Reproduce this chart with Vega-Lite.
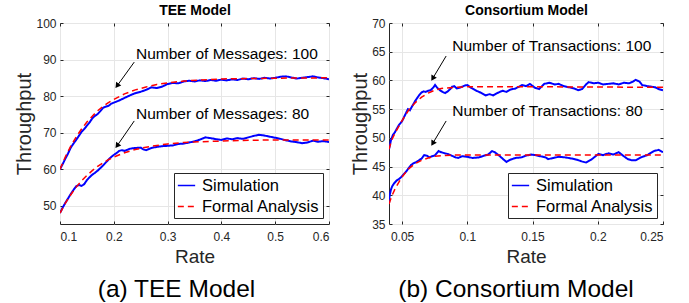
{
  "$schema": "https://vega.github.io/schema/vega-lite/v6.json",
  "padding": {"left": 14, "top": 3, "right": 0, "bottom": 0},
  "autosize": {"type": "pad"},
  "background": "white",
  "config": {
    "font": "Liberation Sans",
    "view": {"stroke": "#262626", "strokeWidth": 1},
    "axis": {"labelFont": "Liberation Sans", "titleFont": "Liberation Sans", "labelColor": "#262626", "titleColor": "#262626", "domainColor": "#262626", "tickColor": "#262626", "gridColor": "#e6e6e6", "labelFontSize": 12, "titleFontWeight": "normal"},
    "legend": {"orient": "bottom-right", "offset": 6, "padding": 3, "strokeColor": "#262626", "fillColor": "white", "labelFontSize": 16.5, "labelColor": "black", "symbolType": "stroke", "symbolSize": 300, "symbolStrokeWidth": 1.5, "rowPadding": 3, "labelOffset": 6},
    "title": {"font": "Liberation Sans"}
  },
  "datasets": {
    "aSim": [
      {"r":0.100,"t":60.0,"n":"100","s":"Simulation"},{"r":0.105,"t":61.4,"n":"100","s":"Simulation"},{"r":0.110,"t":62.9,"n":"100","s":"Simulation"},{"r":0.115,"t":64.3,"n":"100","s":"Simulation"},{"r":0.120,"t":65.9,"n":"100","s":"Simulation"},{"r":0.125,"t":67.0,"n":"100","s":"Simulation"},{"r":0.130,"t":68.0,"n":"100","s":"Simulation"},{"r":0.135,"t":69.1,"n":"100","s":"Simulation"},{"r":0.140,"t":70.2,"n":"100","s":"Simulation"},{"r":0.145,"t":71.0,"n":"100","s":"Simulation"},{"r":0.150,"t":71.9,"n":"100","s":"Simulation"},{"r":0.155,"t":72.8,"n":"100","s":"Simulation"},{"r":0.160,"t":73.9,"n":"100","s":"Simulation"},{"r":0.165,"t":74.6,"n":"100","s":"Simulation"},{"r":0.170,"t":75.1,"n":"100","s":"Simulation"},{"r":0.175,"t":75.9,"n":"100","s":"Simulation"},{"r":0.180,"t":76.8,"n":"100","s":"Simulation"},{"r":0.185,"t":77.1,"n":"100","s":"Simulation"},{"r":0.190,"t":77.3,"n":"100","s":"Simulation"},{"r":0.195,"t":77.9,"n":"100","s":"Simulation"},{"r":0.200,"t":78.2,"n":"100","s":"Simulation"},{"r":0.205,"t":78.5,"n":"100","s":"Simulation"},{"r":0.210,"t":78.8,"n":"100","s":"Simulation"},{"r":0.220,"t":79.5,"n":"100","s":"Simulation"},{"r":0.230,"t":80.2,"n":"100","s":"Simulation"},{"r":0.240,"t":80.8,"n":"100","s":"Simulation"},{"r":0.250,"t":81.2,"n":"100","s":"Simulation"},{"r":0.260,"t":81.7,"n":"100","s":"Simulation"},{"r":0.270,"t":82.4,"n":"100","s":"Simulation"},{"r":0.280,"t":82.2,"n":"100","s":"Simulation"},{"r":0.290,"t":82.6,"n":"100","s":"Simulation"},{"r":0.300,"t":83.3,"n":"100","s":"Simulation"},{"r":0.310,"t":83.6,"n":"100","s":"Simulation"},{"r":0.320,"t":83.5,"n":"100","s":"Simulation"},{"r":0.330,"t":84.0,"n":"100","s":"Simulation"},{"r":0.340,"t":84.2,"n":"100","s":"Simulation"},{"r":0.350,"t":84.0,"n":"100","s":"Simulation"},{"r":0.360,"t":84.3,"n":"100","s":"Simulation"},{"r":0.370,"t":84.1,"n":"100","s":"Simulation"},{"r":0.380,"t":84.4,"n":"100","s":"Simulation"},{"r":0.390,"t":84.2,"n":"100","s":"Simulation"},{"r":0.400,"t":84.5,"n":"100","s":"Simulation"},{"r":0.410,"t":84.3,"n":"100","s":"Simulation"},{"r":0.420,"t":84.6,"n":"100","s":"Simulation"},{"r":0.430,"t":84.4,"n":"100","s":"Simulation"},{"r":0.440,"t":84.8,"n":"100","s":"Simulation"},{"r":0.450,"t":84.6,"n":"100","s":"Simulation"},{"r":0.460,"t":84.9,"n":"100","s":"Simulation"},{"r":0.470,"t":84.7,"n":"100","s":"Simulation"},{"r":0.480,"t":85.0,"n":"100","s":"Simulation"},{"r":0.490,"t":84.8,"n":"100","s":"Simulation"},{"r":0.500,"t":85.0,"n":"100","s":"Simulation"},{"r":0.510,"t":85.3,"n":"100","s":"Simulation"},{"r":0.520,"t":85.4,"n":"100","s":"Simulation"},{"r":0.530,"t":85.1,"n":"100","s":"Simulation"},{"r":0.540,"t":84.8,"n":"100","s":"Simulation"},{"r":0.550,"t":85.0,"n":"100","s":"Simulation"},{"r":0.560,"t":85.2,"n":"100","s":"Simulation"},{"r":0.570,"t":85.4,"n":"100","s":"Simulation"},{"r":0.580,"t":85.1,"n":"100","s":"Simulation"},{"r":0.590,"t":84.9,"n":"100","s":"Simulation"},{"r":0.600,"t":84.6,"n":"100","s":"Simulation"},
      {"r":0.100,"t":48.0,"n":"80","s":"Simulation"},{"r":0.105,"t":49.5,"n":"80","s":"Simulation"},{"r":0.110,"t":50.8,"n":"80","s":"Simulation"},{"r":0.115,"t":52.0,"n":"80","s":"Simulation"},{"r":0.120,"t":53.2,"n":"80","s":"Simulation"},{"r":0.125,"t":54.3,"n":"80","s":"Simulation"},{"r":0.130,"t":55.3,"n":"80","s":"Simulation"},{"r":0.135,"t":55.7,"n":"80","s":"Simulation"},{"r":0.140,"t":55.4,"n":"80","s":"Simulation"},{"r":0.145,"t":55.9,"n":"80","s":"Simulation"},{"r":0.150,"t":57.0,"n":"80","s":"Simulation"},{"r":0.155,"t":57.8,"n":"80","s":"Simulation"},{"r":0.160,"t":58.5,"n":"80","s":"Simulation"},{"r":0.165,"t":59.0,"n":"80","s":"Simulation"},{"r":0.170,"t":59.6,"n":"80","s":"Simulation"},{"r":0.175,"t":60.3,"n":"80","s":"Simulation"},{"r":0.180,"t":61.0,"n":"80","s":"Simulation"},{"r":0.185,"t":61.8,"n":"80","s":"Simulation"},{"r":0.190,"t":62.6,"n":"80","s":"Simulation"},{"r":0.195,"t":63.3,"n":"80","s":"Simulation"},{"r":0.200,"t":63.9,"n":"80","s":"Simulation"},{"r":0.205,"t":64.4,"n":"80","s":"Simulation"},{"r":0.210,"t":65.0,"n":"80","s":"Simulation"},{"r":0.215,"t":65.2,"n":"80","s":"Simulation"},{"r":0.220,"t":65.0,"n":"80","s":"Simulation"},{"r":0.225,"t":65.3,"n":"80","s":"Simulation"},{"r":0.230,"t":65.6,"n":"80","s":"Simulation"},{"r":0.240,"t":65.8,"n":"80","s":"Simulation"},{"r":0.250,"t":65.9,"n":"80","s":"Simulation"},{"r":0.255,"t":65.4,"n":"80","s":"Simulation"},{"r":0.260,"t":65.2,"n":"80","s":"Simulation"},{"r":0.270,"t":65.8,"n":"80","s":"Simulation"},{"r":0.280,"t":66.1,"n":"80","s":"Simulation"},{"r":0.290,"t":66.3,"n":"80","s":"Simulation"},{"r":0.300,"t":66.4,"n":"80","s":"Simulation"},{"r":0.310,"t":66.5,"n":"80","s":"Simulation"},{"r":0.320,"t":66.9,"n":"80","s":"Simulation"},{"r":0.330,"t":67.0,"n":"80","s":"Simulation"},{"r":0.340,"t":67.3,"n":"80","s":"Simulation"},{"r":0.350,"t":67.6,"n":"80","s":"Simulation"},{"r":0.360,"t":68.1,"n":"80","s":"Simulation"},{"r":0.370,"t":68.7,"n":"80","s":"Simulation"},{"r":0.380,"t":68.5,"n":"80","s":"Simulation"},{"r":0.390,"t":68.2,"n":"80","s":"Simulation"},{"r":0.400,"t":68.0,"n":"80","s":"Simulation"},{"r":0.410,"t":68.4,"n":"80","s":"Simulation"},{"r":0.420,"t":68.2,"n":"80","s":"Simulation"},{"r":0.430,"t":68.5,"n":"80","s":"Simulation"},{"r":0.440,"t":68.3,"n":"80","s":"Simulation"},{"r":0.450,"t":68.7,"n":"80","s":"Simulation"},{"r":0.460,"t":69.1,"n":"80","s":"Simulation"},{"r":0.470,"t":69.4,"n":"80","s":"Simulation"},{"r":0.480,"t":69.2,"n":"80","s":"Simulation"},{"r":0.490,"t":68.9,"n":"80","s":"Simulation"},{"r":0.500,"t":68.6,"n":"80","s":"Simulation"},{"r":0.510,"t":68.3,"n":"80","s":"Simulation"},{"r":0.520,"t":67.9,"n":"80","s":"Simulation"},{"r":0.530,"t":67.6,"n":"80","s":"Simulation"},{"r":0.540,"t":67.4,"n":"80","s":"Simulation"},{"r":0.550,"t":67.1,"n":"80","s":"Simulation"},{"r":0.560,"t":67.3,"n":"80","s":"Simulation"},{"r":0.570,"t":67.8,"n":"80","s":"Simulation"},{"r":0.580,"t":67.5,"n":"80","s":"Simulation"},{"r":0.590,"t":67.7,"n":"80","s":"Simulation"},{"r":0.600,"t":67.4,"n":"80","s":"Simulation"}
    ],
    "aFor": [
      {"r":0.10,"t":60.0,"n":"100","s":"Formal Analysis"},{"r":0.11,"t":63.4,"n":"100","s":"Formal Analysis"},{"r":0.12,"t":66.3,"n":"100","s":"Formal Analysis"},{"r":0.13,"t":68.8,"n":"100","s":"Formal Analysis"},{"r":0.14,"t":71.0,"n":"100","s":"Formal Analysis"},{"r":0.15,"t":72.9,"n":"100","s":"Formal Analysis"},{"r":0.16,"t":74.5,"n":"100","s":"Formal Analysis"},{"r":0.17,"t":76.0,"n":"100","s":"Formal Analysis"},{"r":0.18,"t":77.2,"n":"100","s":"Formal Analysis"},{"r":0.19,"t":78.2,"n":"100","s":"Formal Analysis"},{"r":0.20,"t":79.1,"n":"100","s":"Formal Analysis"},{"r":0.22,"t":80.6,"n":"100","s":"Formal Analysis"},{"r":0.24,"t":81.7,"n":"100","s":"Formal Analysis"},{"r":0.26,"t":82.5,"n":"100","s":"Formal Analysis"},{"r":0.28,"t":83.2,"n":"100","s":"Formal Analysis"},{"r":0.30,"t":83.6,"n":"100","s":"Formal Analysis"},{"r":0.33,"t":84.1,"n":"100","s":"Formal Analysis"},{"r":0.36,"t":84.4,"n":"100","s":"Formal Analysis"},{"r":0.40,"t":84.7,"n":"100","s":"Formal Analysis"},{"r":0.45,"t":84.8,"n":"100","s":"Formal Analysis"},{"r":0.50,"t":84.9,"n":"100","s":"Formal Analysis"},{"r":0.60,"t":85.0,"n":"100","s":"Formal Analysis"},
      {"r":0.10,"t":48.0,"n":"80","s":"Formal Analysis"},{"r":0.11,"t":50.7,"n":"80","s":"Formal Analysis"},{"r":0.12,"t":53.0,"n":"80","s":"Formal Analysis"},{"r":0.13,"t":55.1,"n":"80","s":"Formal Analysis"},{"r":0.14,"t":56.8,"n":"80","s":"Formal Analysis"},{"r":0.15,"t":58.3,"n":"80","s":"Formal Analysis"},{"r":0.16,"t":59.6,"n":"80","s":"Formal Analysis"},{"r":0.17,"t":60.8,"n":"80","s":"Formal Analysis"},{"r":0.18,"t":61.7,"n":"80","s":"Formal Analysis"},{"r":0.19,"t":62.6,"n":"80","s":"Formal Analysis"},{"r":0.20,"t":63.3,"n":"80","s":"Formal Analysis"},{"r":0.22,"t":64.5,"n":"80","s":"Formal Analysis"},{"r":0.24,"t":65.4,"n":"80","s":"Formal Analysis"},{"r":0.26,"t":66.0,"n":"80","s":"Formal Analysis"},{"r":0.28,"t":66.5,"n":"80","s":"Formal Analysis"},{"r":0.30,"t":66.9,"n":"80","s":"Formal Analysis"},{"r":0.33,"t":67.3,"n":"80","s":"Formal Analysis"},{"r":0.36,"t":67.5,"n":"80","s":"Formal Analysis"},{"r":0.40,"t":67.7,"n":"80","s":"Formal Analysis"},{"r":0.45,"t":67.9,"n":"80","s":"Formal Analysis"},{"r":0.50,"t":68.0,"n":"80","s":"Formal Analysis"},{"r":0.60,"t":68.0,"n":"80","s":"Formal Analysis"}
    ],
    "aText": [
      {"r":0.2413,"t":90.1,"label":"Number of Messages: 100"},
      {"r":0.2413,"t":73.65,"label":"Number of Messages: 80"}
    ],
    "aArr": [
      {"r":0.238,"t":89.3,"r2":0.2061,"t2":82.8,"ang":216},
      {"r":0.238,"t":73.2,"r2":0.2061,"t2":66.4,"ang":216}
    ],
    "bSim": [
      {"r":0.0400,"t":48.0,"n":"100","s":"Simulation"},{"r":0.0415,"t":49.6,"n":"100","s":"Simulation"},{"r":0.0430,"t":50.5,"n":"100","s":"Simulation"},{"r":0.0446,"t":51.0,"n":"100","s":"Simulation"},{"r":0.0460,"t":51.6,"n":"100","s":"Simulation"},{"r":0.0475,"t":52.2,"n":"100","s":"Simulation"},{"r":0.0490,"t":52.6,"n":"100","s":"Simulation"},{"r":0.0500,"t":52.9,"n":"100","s":"Simulation"},{"r":0.0515,"t":53.6,"n":"100","s":"Simulation"},{"r":0.0530,"t":54.3,"n":"100","s":"Simulation"},{"r":0.0545,"t":55.0,"n":"100","s":"Simulation"},{"r":0.0560,"t":54.8,"n":"100","s":"Simulation"},{"r":0.0575,"t":55.4,"n":"100","s":"Simulation"},{"r":0.0590,"t":56.0,"n":"100","s":"Simulation"},{"r":0.0600,"t":56.4,"n":"100","s":"Simulation"},{"r":0.0615,"t":56.9,"n":"100","s":"Simulation"},{"r":0.0630,"t":57.4,"n":"100","s":"Simulation"},{"r":0.0649,"t":57.9,"n":"100","s":"Simulation"},{"r":0.0665,"t":58.1,"n":"100","s":"Simulation"},{"r":0.0680,"t":58.0,"n":"100","s":"Simulation"},{"r":0.0700,"t":58.2,"n":"100","s":"Simulation"},{"r":0.0720,"t":58.3,"n":"100","s":"Simulation"},{"r":0.0740,"t":58.8,"n":"100","s":"Simulation"},{"r":0.0753,"t":59.2,"n":"100","s":"Simulation"},{"r":0.0770,"t":58.7,"n":"100","s":"Simulation"},{"r":0.0790,"t":58.3,"n":"100","s":"Simulation"},{"r":0.0810,"t":58.0,"n":"100","s":"Simulation"},{"r":0.0830,"t":57.8,"n":"100","s":"Simulation"},{"r":0.0850,"t":58.1,"n":"100","s":"Simulation"},{"r":0.0870,"t":58.5,"n":"100","s":"Simulation"},{"r":0.0884,"t":58.9,"n":"100","s":"Simulation"},{"r":0.0900,"t":59.0,"n":"100","s":"Simulation"},{"r":0.0920,"t":58.6,"n":"100","s":"Simulation"},{"r":0.0950,"t":58.8,"n":"100","s":"Simulation"},{"r":0.0980,"t":59.1,"n":"100","s":"Simulation"},{"r":0.1000,"t":59.2,"n":"100","s":"Simulation"},{"r":0.1030,"t":58.7,"n":"100","s":"Simulation"},{"r":0.1070,"t":58.2,"n":"100","s":"Simulation"},{"r":0.1100,"t":57.9,"n":"100","s":"Simulation"},{"r":0.1140,"t":57.4,"n":"100","s":"Simulation"},{"r":0.1170,"t":57.6,"n":"100","s":"Simulation"},{"r":0.1200,"t":57.4,"n":"100","s":"Simulation"},{"r":0.1230,"t":57.8,"n":"100","s":"Simulation"},{"r":0.1270,"t":58.2,"n":"100","s":"Simulation"},{"r":0.1300,"t":58.0,"n":"100","s":"Simulation"},{"r":0.1330,"t":58.4,"n":"100","s":"Simulation"},{"r":0.1370,"t":58.6,"n":"100","s":"Simulation"},{"r":0.1420,"t":59.2,"n":"100","s":"Simulation"},{"r":0.1450,"t":59.0,"n":"100","s":"Simulation"},{"r":0.1480,"t":59.4,"n":"100","s":"Simulation"},{"r":0.1520,"t":58.7,"n":"100","s":"Simulation"},{"r":0.1550,"t":58.5,"n":"100","s":"Simulation"},{"r":0.1590,"t":59.4,"n":"100","s":"Simulation"},{"r":0.1630,"t":59.6,"n":"100","s":"Simulation"},{"r":0.1670,"t":59.3,"n":"100","s":"Simulation"},{"r":0.1700,"t":59.4,"n":"100","s":"Simulation"},{"r":0.1740,"t":59.0,"n":"100","s":"Simulation"},{"r":0.1780,"t":58.8,"n":"100","s":"Simulation"},{"r":0.1820,"t":58.6,"n":"100","s":"Simulation"},{"r":0.1850,"t":58.3,"n":"100","s":"Simulation"},{"r":0.1880,"t":58.5,"n":"100","s":"Simulation"},{"r":0.1910,"t":59.3,"n":"100","s":"Simulation"},{"r":0.1930,"t":59.7,"n":"100","s":"Simulation"},{"r":0.1970,"t":59.5,"n":"100","s":"Simulation"},{"r":0.2005,"t":59.6,"n":"100","s":"Simulation"},{"r":0.2040,"t":59.3,"n":"100","s":"Simulation"},{"r":0.2080,"t":59.4,"n":"100","s":"Simulation"},{"r":0.2120,"t":59.5,"n":"100","s":"Simulation"},{"r":0.2160,"t":59.3,"n":"100","s":"Simulation"},{"r":0.2200,"t":59.6,"n":"100","s":"Simulation"},{"r":0.2240,"t":59.5,"n":"100","s":"Simulation"},{"r":0.2270,"t":59.8,"n":"100","s":"Simulation"},{"r":0.2290,"t":60.1,"n":"100","s":"Simulation"},{"r":0.2320,"t":59.8,"n":"100","s":"Simulation"},{"r":0.2340,"t":59.2,"n":"100","s":"Simulation"},{"r":0.2380,"t":59.0,"n":"100","s":"Simulation"},{"r":0.2415,"t":58.9,"n":"100","s":"Simulation"},{"r":0.2440,"t":58.8,"n":"100","s":"Simulation"},{"r":0.2466,"t":58.5,"n":"100","s":"Simulation"},{"r":0.2500,"t":58.3,"n":"100","s":"Simulation"},
      {"r":0.0400,"t":38.5,"n":"80","s":"Simulation"},{"r":0.0405,"t":40.0,"n":"80","s":"Simulation"},{"r":0.0415,"t":41.0,"n":"80","s":"Simulation"},{"r":0.0425,"t":41.6,"n":"80","s":"Simulation"},{"r":0.0440,"t":42.1,"n":"80","s":"Simulation"},{"r":0.0460,"t":42.6,"n":"80","s":"Simulation"},{"r":0.0475,"t":42.8,"n":"80","s":"Simulation"},{"r":0.0490,"t":43.1,"n":"80","s":"Simulation"},{"r":0.0510,"t":43.6,"n":"80","s":"Simulation"},{"r":0.0530,"t":44.1,"n":"80","s":"Simulation"},{"r":0.0550,"t":44.7,"n":"80","s":"Simulation"},{"r":0.0570,"t":45.3,"n":"80","s":"Simulation"},{"r":0.0590,"t":45.6,"n":"80","s":"Simulation"},{"r":0.0610,"t":45.8,"n":"80","s":"Simulation"},{"r":0.0630,"t":46.1,"n":"80","s":"Simulation"},{"r":0.0650,"t":46.4,"n":"80","s":"Simulation"},{"r":0.0670,"t":47.0,"n":"80","s":"Simulation"},{"r":0.0690,"t":46.9,"n":"80","s":"Simulation"},{"r":0.0710,"t":46.6,"n":"80","s":"Simulation"},{"r":0.0730,"t":46.8,"n":"80","s":"Simulation"},{"r":0.0750,"t":46.9,"n":"80","s":"Simulation"},{"r":0.0780,"t":47.7,"n":"80","s":"Simulation"},{"r":0.0800,"t":47.5,"n":"80","s":"Simulation"},{"r":0.0830,"t":47.3,"n":"80","s":"Simulation"},{"r":0.0850,"t":47.2,"n":"80","s":"Simulation"},{"r":0.0880,"t":46.9,"n":"80","s":"Simulation"},{"r":0.0910,"t":46.6,"n":"80","s":"Simulation"},{"r":0.0930,"t":46.5,"n":"80","s":"Simulation"},{"r":0.0960,"t":46.8,"n":"80","s":"Simulation"},{"r":0.1000,"t":46.7,"n":"80","s":"Simulation"},{"r":0.1040,"t":46.5,"n":"80","s":"Simulation"},{"r":0.1090,"t":46.6,"n":"80","s":"Simulation"},{"r":0.1130,"t":46.9,"n":"80","s":"Simulation"},{"r":0.1160,"t":47.1,"n":"80","s":"Simulation"},{"r":0.1190,"t":47.7,"n":"80","s":"Simulation"},{"r":0.1210,"t":47.5,"n":"80","s":"Simulation"},{"r":0.1240,"t":47.0,"n":"80","s":"Simulation"},{"r":0.1270,"t":46.4,"n":"80","s":"Simulation"},{"r":0.1300,"t":45.8,"n":"80","s":"Simulation"},{"r":0.1330,"t":46.2,"n":"80","s":"Simulation"},{"r":0.1370,"t":46.5,"n":"80","s":"Simulation"},{"r":0.1415,"t":46.6,"n":"80","s":"Simulation"},{"r":0.1450,"t":46.9,"n":"80","s":"Simulation"},{"r":0.1490,"t":47.1,"n":"80","s":"Simulation"},{"r":0.1520,"t":47.0,"n":"80","s":"Simulation"},{"r":0.1560,"t":46.8,"n":"80","s":"Simulation"},{"r":0.1600,"t":46.6,"n":"80","s":"Simulation"},{"r":0.1620,"t":46.3,"n":"80","s":"Simulation"},{"r":0.1660,"t":46.5,"n":"80","s":"Simulation"},{"r":0.1700,"t":46.7,"n":"80","s":"Simulation"},{"r":0.1750,"t":46.6,"n":"80","s":"Simulation"},{"r":0.1800,"t":46.4,"n":"80","s":"Simulation"},{"r":0.1840,"t":46.2,"n":"80","s":"Simulation"},{"r":0.1877,"t":45.9,"n":"80","s":"Simulation"},{"r":0.1910,"t":45.7,"n":"80","s":"Simulation"},{"r":0.1950,"t":46.2,"n":"80","s":"Simulation"},{"r":0.2005,"t":47.2,"n":"80","s":"Simulation"},{"r":0.2040,"t":47.0,"n":"80","s":"Simulation"},{"r":0.2080,"t":47.3,"n":"80","s":"Simulation"},{"r":0.2120,"t":47.1,"n":"80","s":"Simulation"},{"r":0.2160,"t":47.5,"n":"80","s":"Simulation"},{"r":0.2200,"t":46.8,"n":"80","s":"Simulation"},{"r":0.2230,"t":46.3,"n":"80","s":"Simulation"},{"r":0.2260,"t":46.1,"n":"80","s":"Simulation"},{"r":0.2290,"t":46.1,"n":"80","s":"Simulation"},{"r":0.2330,"t":46.6,"n":"80","s":"Simulation"},{"r":0.2380,"t":47.0,"n":"80","s":"Simulation"},{"r":0.2430,"t":47.7,"n":"80","s":"Simulation"},{"r":0.2466,"t":47.9,"n":"80","s":"Simulation"},{"r":0.2500,"t":47.5,"n":"80","s":"Simulation"}
    ],
    "bFor": [
      {"r":0.040,"t":48.0,"n":"100","s":"Formal Analysis"},{"r":0.042,"t":49.6,"n":"100","s":"Formal Analysis"},{"r":0.045,"t":51.0,"n":"100","s":"Formal Analysis"},{"r":0.050,"t":53.0,"n":"100","s":"Formal Analysis"},{"r":0.055,"t":54.8,"n":"100","s":"Formal Analysis"},{"r":0.060,"t":56.1,"n":"100","s":"Formal Analysis"},{"r":0.065,"t":57.1,"n":"100","s":"Formal Analysis"},{"r":0.070,"t":57.8,"n":"100","s":"Formal Analysis"},{"r":0.075,"t":58.3,"n":"100","s":"Formal Analysis"},{"r":0.080,"t":58.6,"n":"100","s":"Formal Analysis"},{"r":0.090,"t":58.8,"n":"100","s":"Formal Analysis"},{"r":0.100,"t":58.9,"n":"100","s":"Formal Analysis"},{"r":0.150,"t":58.9,"n":"100","s":"Formal Analysis"},{"r":0.250,"t":58.8,"n":"100","s":"Formal Analysis"},
      {"r":0.040,"t":38.5,"n":"80","s":"Formal Analysis"},{"r":0.042,"t":39.8,"n":"80","s":"Formal Analysis"},{"r":0.045,"t":41.3,"n":"80","s":"Formal Analysis"},{"r":0.050,"t":43.2,"n":"80","s":"Formal Analysis"},{"r":0.055,"t":44.6,"n":"80","s":"Formal Analysis"},{"r":0.060,"t":45.5,"n":"80","s":"Formal Analysis"},{"r":0.065,"t":46.1,"n":"80","s":"Formal Analysis"},{"r":0.070,"t":46.5,"n":"80","s":"Formal Analysis"},{"r":0.075,"t":46.8,"n":"80","s":"Formal Analysis"},{"r":0.080,"t":46.9,"n":"80","s":"Formal Analysis"},{"r":0.090,"t":47.0,"n":"80","s":"Formal Analysis"},{"r":0.100,"t":47.0,"n":"80","s":"Formal Analysis"},{"r":0.250,"t":47.0,"n":"80","s":"Formal Analysis"}
    ],
    "bText": [
      {"r":0.0885,"t":65.12,"label":"Number of Transactions: 100"},
      {"r":0.0885,"t":53.8,"label":"Number of Transactions: 80"}
    ],
    "bArr": [
      {"r":0.0838,"t":64.25,"r2":0.0735,"t2":60.35,"ang":211},
      {"r":0.0838,"t":52.94,"r2":0.0735,"t2":49.03,"ang":211}
    ]
  },
  "spacing": 60,
  "bounds": "flush",
  "resolve": {"scale": {"color": "independent", "strokeDash": "independent"}, "legend": {"color": "independent", "strokeDash": "independent"}},
  "hconcat": [
    {
      "width": 269, "height": 201,
      "title": {"text": "(a) TEE Model", "orient": "bottom", "fontSize": 24.5, "fontWeight": "normal", "color": "black", "offset": 12, "dx": -18},
      "resolve": {"axis": {"x": "independent", "y": "independent"}},
      "layer": [
        {
          "data": {"name": "aSim"},
          "mark": {"type": "line", "strokeWidth": 2, "clip": true},
          "encoding": {
            "x": {"field": "r", "type": "quantitative", "scale": {"domain": [0.1, 0.6], "nice": false, "zero": false}, "axis": {"title": "Rate", "titleFontSize": 19, "values": [0.1,0.2,0.3,0.4,0.5,0.6], "format": "~f", "grid": true, "tickSize": -3, "labelPadding": 10, "titlePadding": 5, "domain": false}},
            "y": {"field": "t", "type": "quantitative", "scale": {"domain": [45, 100], "nice": false, "zero": false}, "axis": {"title": "Throughput", "titleFontSize": 20, "values": [50,60,70,80,90,100], "format": "~f", "grid": true, "tickSize": -3, "labelPadding": 7, "titlePadding": 1, "domain": false}},
            "detail": {"field": "n"},
            "color": {"field": "s", "type": "nominal", "title": null, "scale": {"domain": ["Simulation", "Formal Analysis"], "range": ["#0000ff", "#ff0000"]}},
            "strokeDash": {"field": "s", "type": "nominal", "title": null, "scale": {"domain": ["Simulation", "Formal Analysis"], "range": [[1, 0], [6, 4]]}}
          }
        },
        {
          "data": {"name": "aFor"},
          "mark": {"type": "line", "strokeWidth": 1.5, "clip": true},
          "encoding": {
            "x": {"field": "r", "type": "quantitative", "axis": {"orient": "top", "title": "TEE Model", "titleFontSize": 14, "titleFontWeight": "bold", "titleColor": "black", "labels": false, "grid": false, "tickSize": -3, "domain": false, "titlePadding": 5, "values": [0.1,0.2,0.3,0.4,0.5,0.6]}},
            "y": {"field": "t", "type": "quantitative", "axis": {"orient": "right", "title": null, "labels": false, "grid": false, "tickSize": -3, "domain": false, "values": [50,60,70,80,90,100]}},
            "detail": {"field": "n"},
            "color": {"field": "s", "type": "nominal", "title": null},
            "strokeDash": {"field": "s", "type": "nominal", "title": null}
          }
        },
        {
          "data": {"name": "aArr"},
          "mark": {"type": "rule", "color": "black", "strokeWidth": 1},
          "encoding": {
            "x": {"field": "r", "type": "quantitative", "axis": null},
            "y": {"field": "t", "type": "quantitative", "axis": null},
            "x2": {"field": "r2"},
            "y2": {"field": "t2"}
          }
        },
        {
          "data": {"name": "aArr"},
          "mark": {"type": "point", "shape": "triangle-up", "filled": true, "color": "black", "size": 40, "opacity": 1},
          "encoding": {
            "x": {"field": "r2", "type": "quantitative", "axis": null},
            "y": {"field": "t2", "type": "quantitative", "axis": null},
            "angle": {"field": "ang", "type": "quantitative", "scale": null}
          }
        },
        {
          "data": {"name": "aText"},
          "mark": {"type": "text", "align": "left", "baseline": "alphabetic", "fontSize": 15.5, "color": "black"},
          "encoding": {
            "x": {"field": "r", "type": "quantitative", "axis": null},
            "y": {"field": "t", "type": "quantitative", "axis": null},
            "text": {"field": "label"}
          }
        }
      ]
    },
    {
      "width": 274, "height": 201,
      "title": {"text": "(b) Consortium Model", "orient": "bottom", "fontSize": 24.5, "fontWeight": "normal", "color": "black", "offset": 12, "dx": -10},
      "resolve": {"axis": {"x": "independent", "y": "independent"}},
      "layer": [
        {
          "data": {"name": "bSim"},
          "mark": {"type": "line", "strokeWidth": 2, "clip": true},
          "encoding": {
            "x": {"field": "r", "type": "quantitative", "scale": {"domain": [0.04, 0.25], "nice": false, "zero": false}, "axis": {"title": "Rate", "titleFontSize": 19, "values": [0.05,0.1,0.15,0.2,0.25], "format": "~f", "grid": true, "tickSize": -3, "labelPadding": 10, "titlePadding": 5, "domain": false}},
            "y": {"field": "t", "type": "quantitative", "scale": {"domain": [35, 70], "nice": false, "zero": false}, "axis": {"title": "Throughput", "titleFontSize": 20, "values": [35,40,45,50,55,60,65,70], "format": "~f", "grid": true, "tickSize": -3, "labelPadding": 7, "titlePadding": 1, "domain": false}},
            "detail": {"field": "n"},
            "color": {"field": "s", "type": "nominal", "title": null, "scale": {"domain": ["Simulation", "Formal Analysis"], "range": ["#0000ff", "#ff0000"]}},
            "strokeDash": {"field": "s", "type": "nominal", "title": null, "scale": {"domain": ["Simulation", "Formal Analysis"], "range": [[1, 0], [6, 4]]}}
          }
        },
        {
          "data": {"name": "bFor"},
          "mark": {"type": "line", "strokeWidth": 1.5, "clip": true},
          "encoding": {
            "x": {"field": "r", "type": "quantitative", "axis": {"orient": "top", "title": "Consortium Model", "titleFontSize": 14, "titleFontWeight": "bold", "titleColor": "black", "labels": false, "grid": false, "tickSize": -3, "domain": false, "titlePadding": 5, "values": [0.05,0.1,0.15,0.2,0.25]}},
            "y": {"field": "t", "type": "quantitative", "axis": {"orient": "right", "title": null, "labels": false, "grid": false, "tickSize": -3, "domain": false, "values": [35,40,45,50,55,60,65,70]}},
            "detail": {"field": "n"},
            "color": {"field": "s", "type": "nominal", "title": null},
            "strokeDash": {"field": "s", "type": "nominal", "title": null}
          }
        },
        {
          "data": {"name": "bArr"},
          "mark": {"type": "rule", "color": "black", "strokeWidth": 1},
          "encoding": {
            "x": {"field": "r", "type": "quantitative", "axis": null},
            "y": {"field": "t", "type": "quantitative", "axis": null},
            "x2": {"field": "r2"},
            "y2": {"field": "t2"}
          }
        },
        {
          "data": {"name": "bArr"},
          "mark": {"type": "point", "shape": "triangle-up", "filled": true, "color": "black", "size": 40, "opacity": 1},
          "encoding": {
            "x": {"field": "r2", "type": "quantitative", "axis": null},
            "y": {"field": "t2", "type": "quantitative", "axis": null},
            "angle": {"field": "ang", "type": "quantitative", "scale": null}
          }
        },
        {
          "data": {"name": "bText"},
          "mark": {"type": "text", "align": "left", "baseline": "alphabetic", "fontSize": 15.5, "color": "black"},
          "encoding": {
            "x": {"field": "r", "type": "quantitative", "axis": null},
            "y": {"field": "t", "type": "quantitative", "axis": null},
            "text": {"field": "label"}
          }
        }
      ]
    }
  ]
}
